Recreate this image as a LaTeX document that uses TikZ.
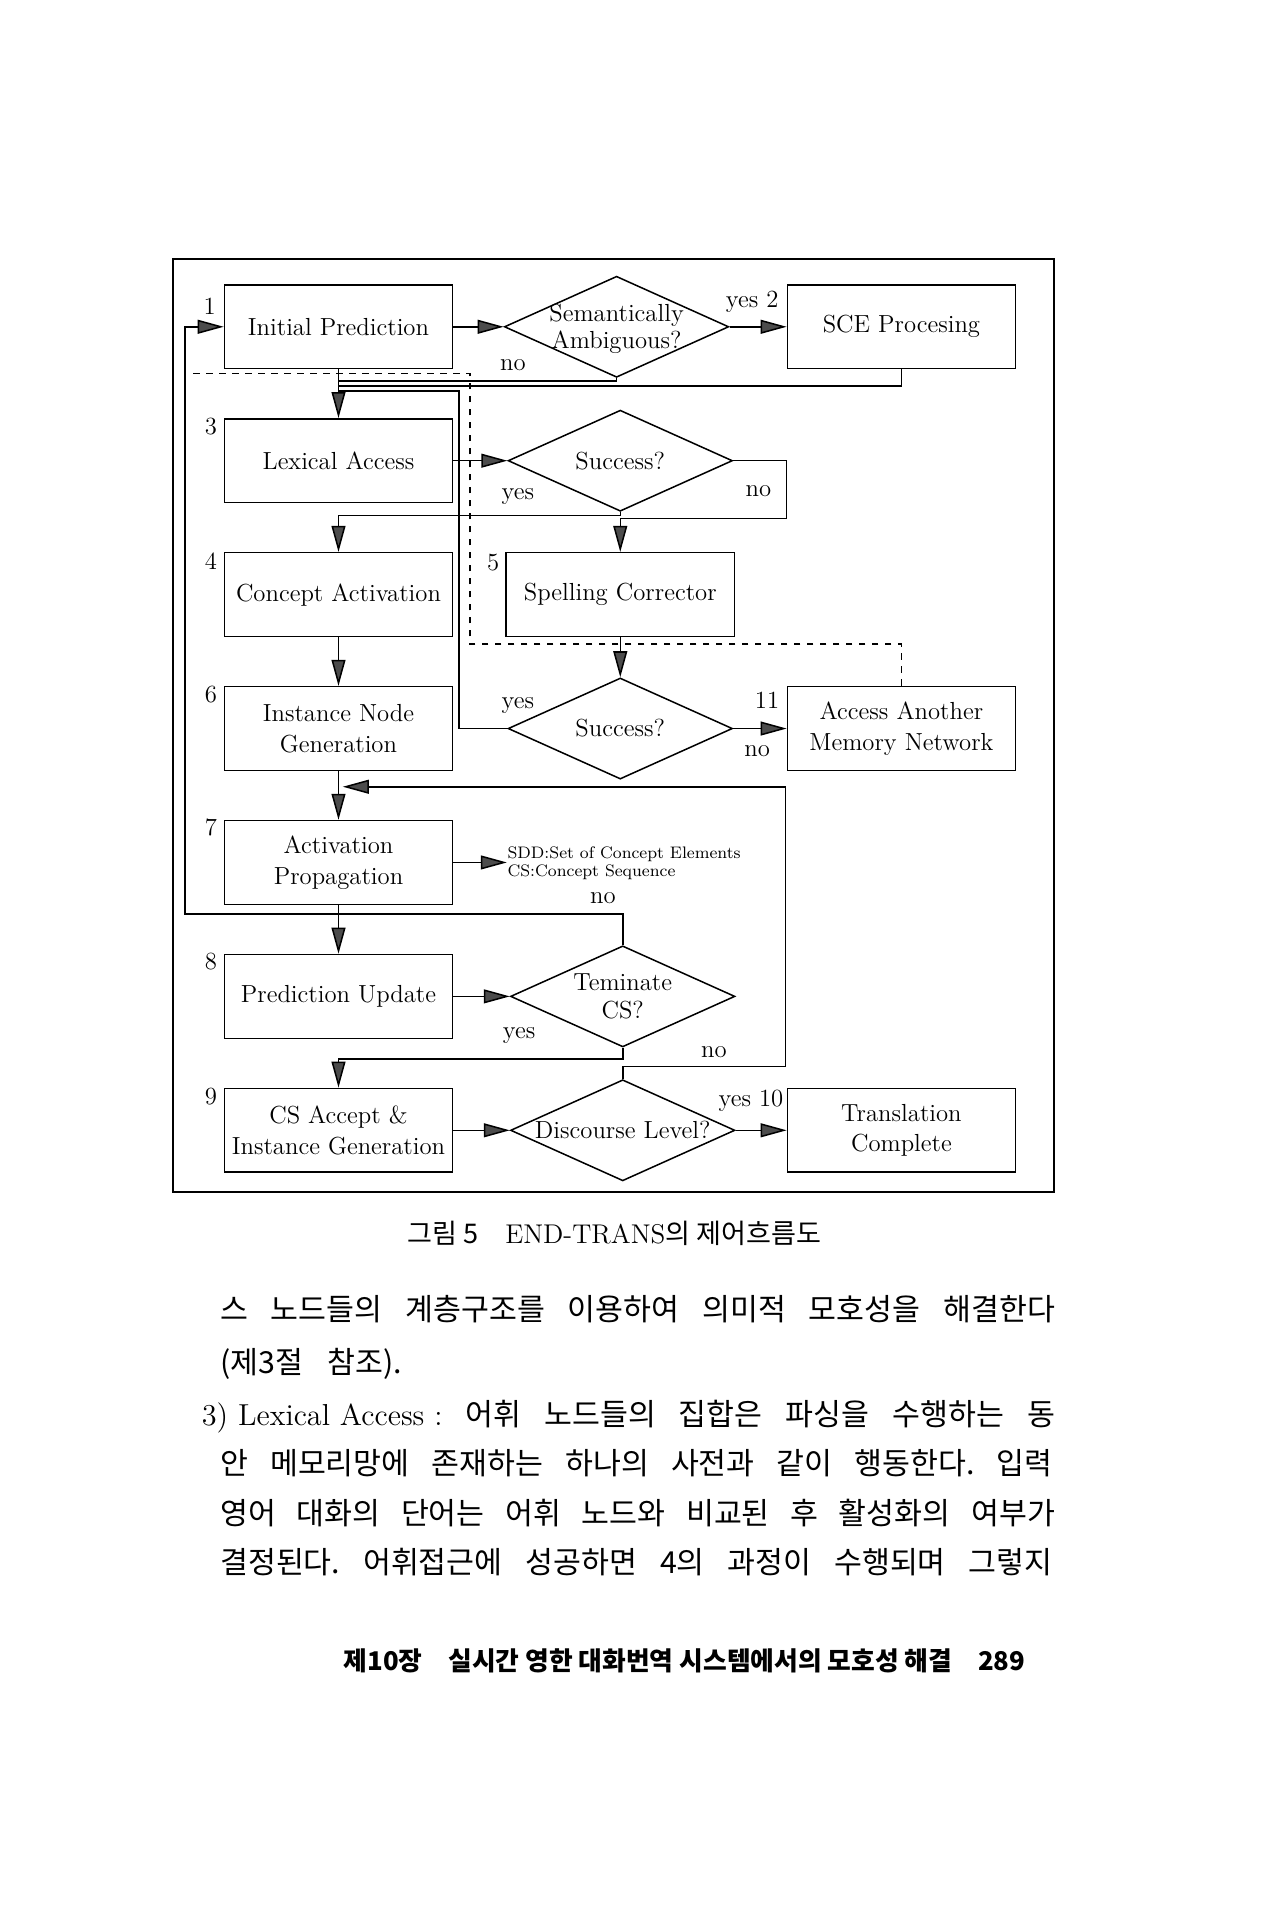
\documentclass[tikz,border=0pt]{standalone}
\usepackage{fontspec}
\newfontfamily\kr{Noto Sans CJK KR}
\usetikzlibrary{shapes.geometric,arrows.meta}
\begin{document}
\begin{tikzpicture}[x=0.02cm, y=-0.02cm, line width=0.7pt,
    >={Triangle[length=12pt,width=6.4pt,fill=black!70]},
    font=\fontsize{11.4}{14.2}\selectfont,
    box/.style={draw, minimum width=3.7cm, minimum height=1.36cm, align=center, inner sep=1pt},
    dia/.style={draw, diamond, minimum width=3.64cm, minimum height=1.64cm, inner sep=0pt},
    diatext/.style={align=center, font=\fontsize{11.4}{12.5}\selectfont},
    body/.style={anchor=base west, inner sep=0pt, font=\kr\fontsize{14}{17}\selectfont\frenchspacing}]
\useasboundingbox (0,0) rectangle (1024,1557);
\draw[line width=0.9pt] (140,210) rectangle (855,967);

% left column
\node[box] (init) at (274.5,265) {Initial Prediction};
\node[box] (lex) at (274.5,373.6) {Lexical Access};
\node[box] (concept) at (274.5,482.2) {Concept Activation};
\node[box] (inst) at (274.5,590.8) {Instance Node\\Generation};
\node[box] (act) at (274.5,699.4) {Activation\\Propagation};
\node[box] (pred) at (274.5,808) {Prediction Update};
\node[box] (accept) at (274.5,916.6) {CS Accept \&\\Instance Generation};

% middle column
\node[dia] (amb) at (500,265) {};
\node[diatext] (ambtxt) at (500,267) {Semantically\\Ambiguous?};
\node[dia] (succa) at (503,373.6) {};
\node[diatext] (succatxt) at (succa) {Success?};
\node[box] (spell) at (503,482.2) {Spelling Corrector};
\node[dia] (succb) at (503,590.8) {};
\node[diatext] (succbtxt) at (succb) {Success?};
\node[anchor=west, align=left, inner sep=0pt, font=\fontsize{7.7}{8.5}\selectfont] (sdd) at (411,700) {SDD:Set of Concept Elements\\CS:Concept Sequence};
\node[dia] (term) at (505,808) {};
\node[diatext] (termtxt) at (term) {Teminate\\CS?};
\node[dia] (disc) at (505,916.6) {};
\node[diatext] (disctxt) at (disc) {Discourse Level?};

% right column
\node[box] (sce) at (731,265) {SCE Procesing};
\node[box] (another) at (731,590.8) {Access Another\\Memory Network};
\node[box] (trans) at (731,916.6) {Translation\\Complete};

% step numbers
\node (n1) at (170,248) {1};
\node (n2) at (610,245) {yes 2};
\node (n3) at (171,346) {3};
\node (n4) at (171,455) {4};
\node (n5) at (400,456) {5};
\node (n6) at (171,563) {6};
\node (n7) at (171,671) {7};
\node (n8) at (171,780) {8};
\node (n9) at (171,889) {9};
\node (n10) at (609,893) {yes 10};
\node (n11) at (622,568) {11};

% yes / no
\node (noa) at (416,296) {no};
\node (yesb) at (420,403) {yes};
\node (nob) at (615,398) {no};
\node (yesc) at (420,572) {yes};
\node (noc) at (614,609) {no};
\node (nod) at (489,728) {no};
\node (yesd) at (421,840) {yes};
\node (noe) at (579,853) {no};

% connectors
\draw[->] (init) -- (amb);
\draw[->] (amb) -- (sce);
\draw[->] (init) -- (lex);
\draw (amb.south) |- (274.5,309);
\draw (sce.south) |- (274.5,313);
\draw[->] (lex) -- (succa);
\draw[->] (succa.south) -- ++(0,3) -| (concept.north);
\draw[->] (succa.east) -- ++(43,0) -- ++(0,47) -| (spell.north);
\draw[->] (concept) -- (inst);
\draw[->] (spell) -- (succb);
\draw[->] (succb) -- (another);
\draw (succb.west) -- ++(-39,0) |- (274.5,317);
\draw[dashed] (another.north) -- ++(0,-34) -| (381,303) -- (153,303);
\draw[->] (inst) -- (act);
\draw[->] (disc.north) -- ++(0,-10) -| (637,638) -- (278,638);
\draw[->] (act.east) -- (act.east -| sdd.west);
\draw[->] (act) -- (pred);
\draw[->] (term.north) |- (150,741) |- (init.west);
\draw[->] (pred) -- (term);
\draw[->] (term.south) -- ++(0,9) -| (accept.north);
\draw[->] (accept) -- (disc);
\draw[->] (disc) -- (trans);

% caption and page text
\node[font=\fontsize{12.5}{15}\selectfont] (caption) at (498,1000) {{\kr 그림 5}\quad END-TRANS{\kr 의 제어흐름도}};
\node[body] (line1) at (178,1071) {\makebox[13.54cm][s]{스 노드들의 계층구조를 이용하여 의미적 모호성을 해결한다}};
\node[body] (line2) at (178,1114) {\makebox[2.95cm][s]{(제3절 참조).}};
\node[body] (line3) at (163,1156) {\makebox[13.84cm][s]{\mbox{\normalfont 3) Lexical Access :} 어휘 노드들의 집합은 파싱을 수행하는 동}};
\node[body] (line4) at (178,1196) {\makebox[13.5cm][s]{안 메모리망에 존재하는 하나의 사전과 같이 행동한다. 입력}};
\node[body] (line5) at (178,1236) {\makebox[13.54cm][s]{영어 대화의 단어는 어휘 노드와 비교된 후 활성화의 여부가}};
\node[body] (line6) at (178,1276) {\makebox[13.5cm][s]{결정된다. 어휘접근에 성공하면 4의 과정이 수행되며 그렇지}};
\node[anchor=base east, inner sep=0pt, font=\kr\bfseries\fontsize{11.9}{14}\selectfont] (foot) at (832,1355) {제10장\quad 실시간 영한 대화번역 시스템에서의 모호성 해결\quad 289};
\end{tikzpicture}
\end{document}
